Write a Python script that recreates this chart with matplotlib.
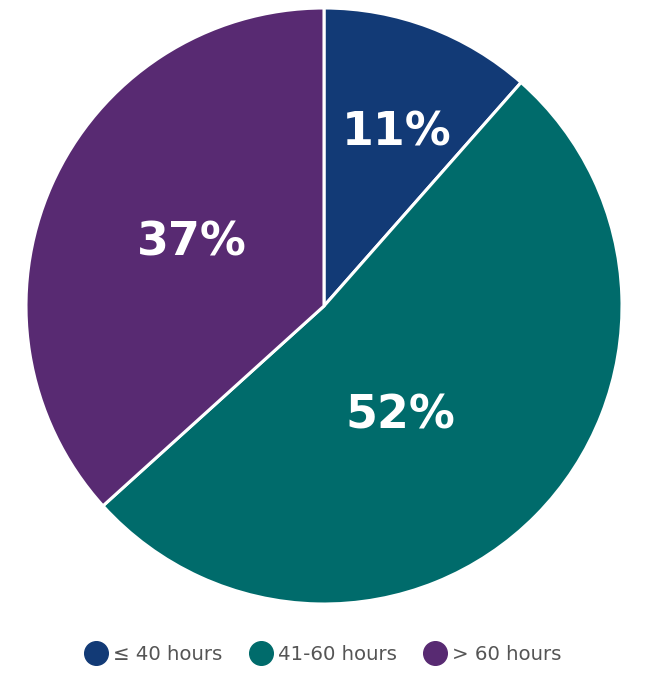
import matplotlib
matplotlib.use("Agg")
import matplotlib.pyplot as plt
from matplotlib.lines import Line2D
from matplotlib.transforms import offset_copy
import numpy as np

categories = ["\u2264 40 hours", "41-60 hours", "> 60 hours"]
shares = [11.5, 51.8, 36.7]
labels = ["11%", "52%", "37%"]
colors = ["#123a76", "#006b6b", "#582a72"]

# label placement (distance from centre, angle shift in degrees) per wedge
label_layout = [(0.64, -1.8), (0.44, -10.0), (0.495, -2.6)]

fig = plt.figure(figsize=(6.70, 6.76), dpi=100)
ax = fig.add_axes([26 / 670, 72 / 676, 596 / 670, 596 / 676])

wedges, _ = ax.pie(shares, colors=colors, startangle=90, counterclock=False,
                   radius=1.0, wedgeprops=dict(edgecolor="white", linewidth=2.2))
ax.set_xlim(-1, 1)
ax.set_ylim(-1, 1)
ax.set_aspect("equal")
ax.axis("off")

txt_trans = offset_copy(ax.transData, fig=fig, x=0, y=-2.2, units="points")
for w, lab, (dist, shift) in zip(wedges, labels, label_layout):
    mid = np.deg2rad((w.theta1 + w.theta2) / 2 + shift)
    ax.text(dist * np.cos(mid), dist * np.sin(mid), lab, transform=txt_trans,
            ha="center", va="center", color="white",
            fontsize=33, fontweight="bold", family="DejaVu Sans")

handles = [Line2D([0], [0], marker="o", linestyle="none", markersize=17,
                  markerfacecolor=c, markeredgecolor=c) for c in colors]
fig.legend(handles, categories, loc="center", bbox_to_anchor=(319 / 670, 1 - 654 / 676),
           ncol=3, frameon=False, handletextpad=-0.15, columnspacing=0.95,
           prop=dict(family="DejaVu Sans", size=14.2), labelcolor="#555555")

fig.savefig("out.png", dpi=100)
